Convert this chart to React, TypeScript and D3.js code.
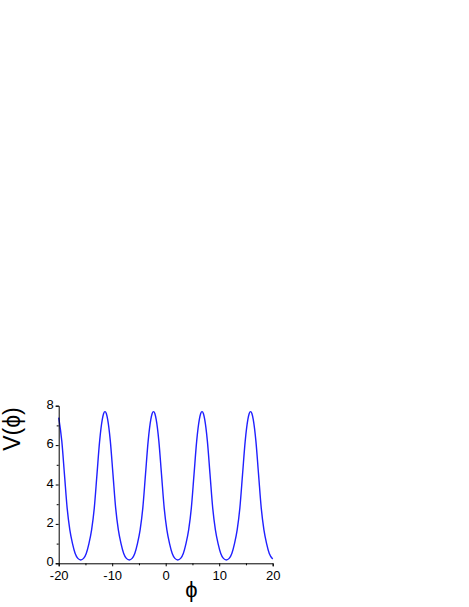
import React, { useEffect, useRef } from 'react'
import * as d3 from 'd3'

const [WIDTH, HEIGHT] = [469, 607]
const margin = { left: 58.7, right: 196.3, top: 405.7, bottom: 43.7 }

const xTicks = [-20, -10, 0, 10, 20]
const xMinorTicks = [-15, -5, 5, 15]
const yTicks = [0, 2, 4, 6, 8]
const yMinorTicks = [1, 3, 5, 7]

// phi values
const phi = [
  -20.0, -19.42, -18.92, -18.42, -17.92, -17.42, -16.92, -16.42, -15.88,
  -15.35, -14.85, -14.35, -13.85, -13.35, -12.85, -12.35, -11.85, -11.6, -11.35, -11.1, -10.85, -10.35, -9.85, -9.35, -8.85, -8.35, -7.85, -7.35, -6.81,
  -6.28, -5.78, -5.28, -4.78, -4.28, -3.78, -3.28, -2.78, -2.53, -2.28, -2.03, -1.78, -1.28, -0.78, -0.28, 0.22, 0.72, 1.22, 1.72, 2.26,
  2.79, 3.29, 3.79, 4.29, 4.79, 5.29, 5.79, 6.29, 6.54, 6.79, 7.04, 7.29, 7.79, 8.29, 8.79, 9.29, 9.79, 10.29, 10.79, 11.33,
  11.86, 12.36, 12.86, 13.36, 13.86, 14.36, 14.86, 15.36, 15.61, 15.86, 16.11, 16.36, 16.86, 17.36, 17.86, 18.36, 18.86, 19.36, 20.0,
]
const potential = [
  7.4, 6.2, 4.5, 2.8, 1.7, 1.0, 0.5, 0.25, 0.17,
  0.25, 0.5, 1.0, 1.7, 2.8, 4.5, 6.2, 7.3, 7.6, 7.7, 7.6, 7.3, 6.2, 4.5, 2.8, 1.7, 1.0, 0.5, 0.25, 0.17,
  0.25, 0.5, 1.0, 1.7, 2.8, 4.5, 6.2, 7.3, 7.6, 7.7, 7.6, 7.3, 6.2, 4.5, 2.8, 1.7, 1.0, 0.5, 0.25, 0.17,
  0.25, 0.5, 1.0, 1.7, 2.8, 4.5, 6.2, 7.3, 7.6, 7.7, 7.6, 7.3, 6.2, 4.5, 2.8, 1.7, 1.0, 0.5, 0.25, 0.17,
  0.25, 0.5, 1.0, 1.7, 2.8, 4.5, 6.2, 7.3, 7.6, 7.7, 7.6, 7.3, 6.2, 4.5, 2.8, 1.7, 1.0, 0.5, 0.22,
]

const FONT = '"Liberation Sans", Arial, sans-serif'

export default function App() {
  const ref = useRef<SVGSVGElement>(null)

  const xScale = d3.scaleLinear().domain([-20, 20]).range([margin.left, WIDTH - margin.right])
  const yScale = d3.scaleLinear().domain([0, 8]).range([HEIGHT - margin.bottom, margin.top])

  const linePath = d3.line<number>()
    .x((_, i) => xScale(phi[i]))
    .y(d => yScale(d))
    .curve(d3.curveMonotoneX)(potential)

  useEffect(() => {
    const svg = d3.select(ref.current)
    svg.selectAll('g.axis').remove()

    const fmt = (d: d3.NumberValue) => String(d)
    const xAxis = d3.axisBottom(xScale).tickValues(xTicks).tickSize(3).tickPadding(4).tickFormat(fmt)
    const yAxis = d3.axisLeft(yScale).tickValues(yTicks).tickSize(3).tickPadding(2).tickFormat(fmt)
    const xMinor = d3.axisBottom(xScale).tickValues(xMinorTicks).tickSize(2).tickFormat(() => '')
    const yMinor = d3.axisLeft(yScale).tickValues(yMinorTicks).tickSize(2).tickFormat(() => '')

    const gx = svg.append('g').attr('class', 'axis')
      .attr('transform', `translate(0, ${HEIGHT - margin.bottom})`)
    gx.call(xAxis)
    gx.append('g').call(xMinor).select('.domain').remove()

    const gy = svg.append('g').attr('class', 'axis')
      .attr('transform', `translate(${margin.left}, 0)`)
    gy.call(yAxis)
    gy.append('g').call(yMinor).select('.domain').remove()
    gy.selectAll('.tick text').attr('y', -1.5)

    svg.selectAll('g.axis path.domain').attr('stroke', '#000').attr('stroke-width', 1)
    svg.selectAll('g.axis .tick line').attr('stroke', '#000')
    svg.selectAll('g.axis .tick text')
      .attr('fill', '#000')
      .style('font-family', FONT)
      .style('font-size', '13px')
  }, [])

  return (
    <svg ref={ref} width={WIDTH} height={HEIGHT}
      style={{ position: 'absolute', left: 0, top: 0, background: '#fff' }}>
      <path d={linePath ?? ''} fill="none" stroke="#2020ff" strokeWidth={1.4} />
      <text x={191.5} y={597} textAnchor="middle" fontFamily={FONT} fontSize={22}>ϕ</text>
      <text transform={`translate(20, 429) rotate(-90)`} textAnchor="middle"
        fontFamily={FONT} fontSize={23}>V(ϕ)</text>
    </svg>
  )
}
